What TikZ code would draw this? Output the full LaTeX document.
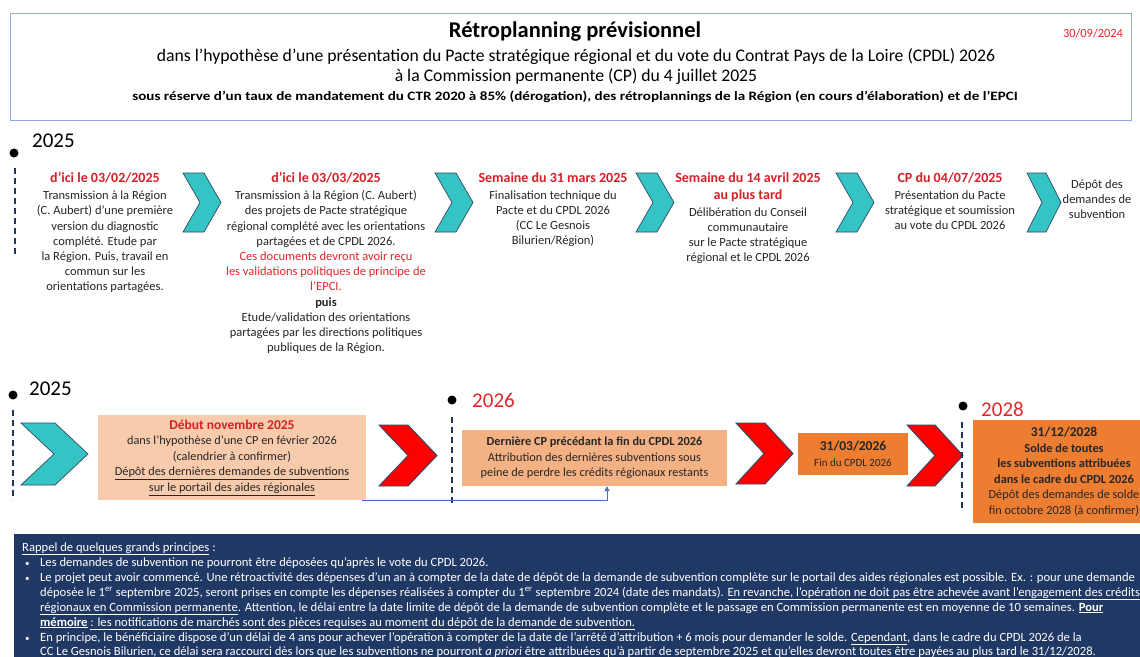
\documentclass[tikz,border=0pt]{standalone}
\usepackage{fontspec}
\setmainfont{Carlito}
\usetikzlibrary{arrows.meta,calc}

\definecolor{tealc}{HTML}{35C4C4}
\definecolor{edgec}{HTML}{2E4A66}
\definecolor{redc}{HTML}{FF0000}
\definecolor{hdr}{HTML}{D42027}
\definecolor{rtext}{HTML}{E3262C}
\definecolor{navyc}{HTML}{203864}
\definecolor{dashc}{HTML}{1F3457}
\definecolor{peach}{HTML}{F8CBAD}
\definecolor{peachd}{HTML}{F4B183}
\definecolor{orangec}{HTML}{ED7D31}
\definecolor{framec}{HTML}{8FAADC}
\definecolor{linkc}{HTML}{4472C4}
\definecolor{ink}{HTML}{262626}

% chevron: style, x, y, width, height, notch depth
\newcommand\chevshape[6]{%
  \draw[#1] (#2,#3) -- (#2+#4-#6,#3) -- (#2+#4,#3+#5/2) -- (#2+#4-#6,#3+#5)
    -- (#2,#3+#5) -- (#2+#6,#3+#5/2) -- cycle;}

\newcommand\hd[1]{{\fontsize{14}{15.2}\selectfont\bfseries\color{hdr}#1}}
\newcommand\smallbullet{{\fontsize{9}{15}\selectfont\textbullet}}

\tikzset{
  blk/.style={align=center, inner sep=0pt, anchor=north, text=ink,
    font=\fontsize{12.5}{15.2}\selectfont},
  tealchev/.style={fill=tealc, draw=edgec, line width=0.7pt},
  redchev/.style={fill=redc, draw=edgec, line width=0.9pt},
  tline/.style={draw=dashc, line width=2.6pt, dash pattern=on 6pt off 4pt},
  yeardot/.style={circle, fill=black, inner sep=0pt, minimum size=9pt},
  yearlbl/.style={anchor=west, inner sep=0pt, font=\fontsize{21}{25}\selectfont},
  card/.style={align=center, inner sep=0pt, text=ink,
    font=\fontsize{12.3}{15.5}\selectfont},
  note/.style={anchor=base west, inner sep=0pt, text=white,
    font=\fontsize{12.6}{15}\selectfont},
  link/.style={draw=linkc, line width=0.9pt},
}

\begin{document}
\begin{tikzpicture}[x=1pt,y=-1pt]
\useasboundingbox (0,0) rectangle (1140,656);
\clip (0,0) rectangle (1140,656);
\fill[white] (0,0) rectangle (1140,656);

% ---------- heading frame ----------
\draw[framec, line width=1pt] (10,13) rectangle (1131,120);
\node[inner sep=0pt, font=\fontsize{22.5}{26}\selectfont\bfseries] (title) at (575,32) {Rétroplanning prévisionnel};
\node[inner sep=0pt, font=\fontsize{17.7}{20}\selectfont] (sub1) at (576,57) {dans l’hypothèse d’une présentation du Pacte stratégique régional et du vote du Contrat Pays de la Loire (CPDL) 2026};
\node[inner sep=0pt, font=\fontsize{17.7}{20}\selectfont] (sub2) at (576,77) {à la Commission permanente (CP) du 4 juillet 2025};
\node[inner sep=0pt, font=\fontsize{12.8}{15}\selectfont\bfseries] (sub3) at (575,97) {\scalebox{1.18}[1]{sous réserve d’un taux de mandatement du CTR 2020 à 85\% (dérogation), des rétroplannings de la Région (en cours d’élaboration) et de l’EPCI}};
\node[inner sep=0pt, text=rtext, font=\fontsize{12.4}{15}\selectfont] (date) at (1093,33) {30/09/2024};

% ---------- first timeline ----------
\node[yeardot] (d1) at (14,153) {};
\node[yearlbl] (y1) at (32,141) {2025};
\draw[tline] (15,168) -- (15,256);

\node[blk] (a1) at (105,172.5) {\hd{d’ici le 03/02/2025}\\[1.6pt]
Transmission à la Région\\
(C. Aubert) d’une première\\
version du diagnostic\\
complété. Etude par\\
la Région. Puis, travail en\\
commun sur les\\
orientations partagées.};
\chevshape{tealchev}{183}{173}{38}{59}{17}

\node[blk] (a2) at (326,172.5) {\hd{d’ici le 03/03/2025}\\[1.6pt]
Transmission à la Région (C. Aubert)\\
des projets de Pacte stratégique\\
régional complété avec les orientations\\
partagées et de CPDL 2026.\\
\textcolor{rtext}{Ces documents devront avoir reçu}\\
\textcolor{rtext}{les validations politiques de principe de}\\
\textcolor{rtext}{l’EPCI.}\\
\textbf{puis}\\
Etude/validation des orientations\\
partagées par les directions politiques\\
publiques de la Région.};
\chevshape{tealchev}{435}{173}{38}{59}{17}

\node[blk] (a3) at (553,172.5) {\hd{Semaine du 31 mars 2025}\\[1.6pt]
Finalisation technique du\\
Pacte et du CPDL 2026\\
(CC Le Gesnois\\
Bilurien/Région)};
\chevshape{tealchev}{636}{173}{38}{59}{17}

\node[blk] (a4) at (748,172.5) {\hd{Semaine du 14 avril 2025}\\[1.6pt]
\hd{au plus tard}\\[1.6pt]
Délibération du Conseil\\
communautaire\\
sur le Pacte stratégique\\
régional et le CPDL 2026};
\chevshape{tealchev}{836}{173}{38}{59}{17}

\node[blk] (a5) at (950,172.5) {\hd{CP du 04/07/2025}\\[1.6pt]
Présentation du Pacte\\
stratégique et soumission\\
au vote du CPDL 2026};
\chevshape{tealchev}{1027}{173}{34}{59}{15}

\node[blk] (a6) at (1097,179.5) {Dépôt des\\demandes de\\subvention};

% ---------- second timeline ----------
\node[yeardot] (d2) at (13,395) {};
\node[yearlbl] (y2) at (29,389) {2025};
\draw[tline] (13,410) -- (13,500);
\chevshape{tealchev}{21}{423}{67}{62}{33}

\node[card, fill=peach, minimum width=268pt, minimum height=85pt] (p1) at (232,457.5)
{{\fontsize{13.5}{15.5}\selectfont\bfseries\color{hdr}Début novembre 2025}\\
dans l’hypothèse d’une CP en février 2026\\
(calendrier à confirmer)\\
\underline{Dépôt des dernières demandes de subventions}\\
\underline{sur le portail des aides régionales}};
\chevshape{redchev}{379}{425}{58}{61}{29}

\node[yeardot] (d3) at (452,400) {};
\node[yearlbl, text=rtext] (y3) at (472,400) {2026};
\draw[tline] (452,417) -- (452,503);

\node[card, fill=peachd, minimum width=265pt, minimum height=56pt] (p2) at (594.5,458)
{\textbf{Dernière CP précédant la fin du CPDL 2026}\\
Attribution des dernières subventions sous\\
peine de perdre les crédits régionaux restants};
\chevshape{redchev}{736}{423}{57}{61}{28}

\node[card, fill=orangec, minimum width=110pt, minimum height=42pt] (p3) at (853,454)
{{\fontsize{13.5}{15}\selectfont\bfseries 31/03/2026}\\
{\fontsize{11}{15}\selectfont Fin du CPDL 2026}};
\chevshape{redchev}{907}{425}{56}{61}{28}

\node[yeardot] (d4) at (963,406) {};
\node[yearlbl, text=rtext] (y4) at (981,409) {2028};
\draw[tline] (962,422) -- (962,510);

\node[card, fill=orangec, minimum width=182pt, minimum height=103pt] (p4) at (1064,471.5)
{{\fontsize{13.5}{16}\selectfont\bfseries 31/12/2028}\\
\textbf{Solde de toutes}\\
\textbf{les subventions attribuées}\\
\textbf{dans le cadre du CPDL 2026}\\
Dépôt des demandes de solde\\
fin octobre 2028 (à confirmer)};

\draw[link, -{Triangle[length=5pt,width=5pt]}] ($(p1.south east)+(-4,0)$) -| ($(p2.south)+(12.5,0)$);

% ---------- reminder panel ----------
\fill[navyc] (14,534) rectangle (1160,680);
\node[note] (n0) at (22,551) {\underline{Rappel de quelques grands principes} :};
\node[note] (k1) at (25,566) {\smallbullet};
\node[note] (n1) at (40,566) {Les demandes de subvention ne pourront être déposées qu’après le vote du CPDL 2026.};
\node[note] (k2) at (25,581) {\smallbullet};
\node[note] (n2) at (40,581) {Le projet peut avoir commencé. Une rétroactivité des dépenses d’un an à compter de la date de dépôt de la demande de subvention complète sur le portail des aides régionales est possible. Ex. : pour une demande};
\node[note] (n3) at (40,596) {déposée le 1\textsuperscript{er} septembre 2025, seront prises en compte les dépenses réalisées à compter du 1\textsuperscript{er} septembre 2024 (date des mandats). \underline{En revanche, l’opération ne doit pas être achevée avant l’engagement des crédits}};
\node[note] (n4) at (40,611) {\underline{régionaux en Commission permanente}. Attention, le délai entre la date limite de dépôt de la demande de subvention complète et le passage en Commission permanente est en moyenne de 10 semaines. \underline{\textbf{Pour}}};
\node[note] (n5) at (40,626) {\underline{\textbf{mémoire}} \underline{: les notifications de marchés sont des pièces requises au moment du dépôt de la demande de subvention.}};
\node[note] (k3) at (25,641) {\smallbullet};
\node[note] (n6) at (40,641) {En principe, le bénéficiaire dispose d’un délai de 4 ans pour achever l’opération à compter de la date de l’arrêté d’attribution + 6 mois pour demander le solde. \underline{Cependant}, dans le cadre du CPDL 2026 de la};
\node[note] (n7) at (40,655) {CC Le Gesnois Bilurien, ce délai sera raccourci dès lors que les subventions ne pourront \textit{a priori} être attribuées qu’à partir de septembre 2025 et qu’elles devront toutes être payées au plus tard le 31/12/2028.};
\end{tikzpicture}
\end{document}
